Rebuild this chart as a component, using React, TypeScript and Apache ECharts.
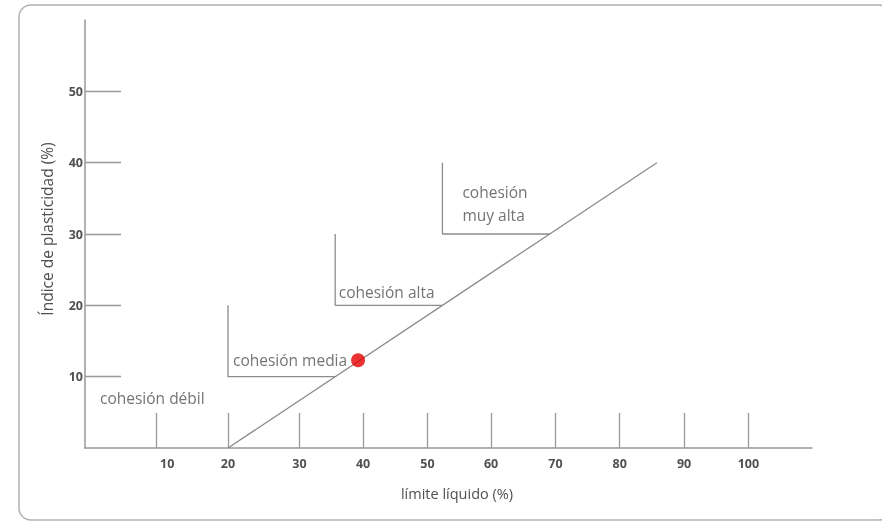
import React, { useEffect, useRef } from "react";
import * as echarts from "echarts";

// x-axis tick marks (positions in data units) and their labels, as drawn in the reference
const xTickLabels = ["10", "20", "30", "40", "50", "60", "70", "80", "90", "100"];
const xTickPos = [10, 20, 30, 38.9, 47.9, 56.8, 65.8, 74.8, 83.8, 92.8];
const xLabelPos = [11.5, 20, 30, 38.9, 47.9, 56.8, 65.8, 74.8, 83.8, 92.8];
const yTicks = [10, 20, 30, 40, 50];

// diagonal boundary line
const diagonal = [
  [20, 0],
  [80, 40],
];
// step boundaries of the zones
const zoneMedia = [
  [20, 20],
  [20, 10],
  [35, 10],
];
const zoneAlta = [
  [35, 30],
  [35, 20],
  [50, 20],
];
const zoneMuyAlta = [
  [50, 40],
  [50, 30],
  [65, 30],
];
// sample point
const samplePoint = [[38.2, 12.3]];
// zone labels: [x, y, text]
const zoneLabels: [number, number, string][] = [
  [2.1, 7.0, "cohesión débil"],
  [20.7, 12.4, "cohesión media"],
  [35.5, 21.9, "cohesión alta"],
  [52.8, 34.3, "cohesión\nmuy alta"],
];

const GRAY = "#8c8c8c";
const TEXT = "#505050";

export default function App() {
  const ref = useRef<HTMLDivElement>(null);
  useEffect(() => {
    if (!ref.current) return;
    const chart = echarts.init(ref.current, null, { renderer: "svg" });
    const lineStyle = { color: GRAY, width: 1.3 };
    const mkLine = (data: number[][]) => ({
      type: "line",
      data,
      symbol: "none",
      lineStyle,
      silent: true,
      z: 2,
    });
    chart.setOption({
      animation: false,
      grid: { left: 85, top: 20, width: 727, height: 428 },
      graphic: [
        {
          type: "rect",
          shape: { x: 19, y: 5, width: 872, height: 515, r: 12 },
          style: { fill: "none", stroke: "#b0b0b0", lineWidth: 1.5 },
          silent: true,
          z: -1,
        },
      ],
      xAxis: {
        type: "value",
        min: 0,
        max: 101.7,
        name: "límite líquido (%)",
        nameLocation: "middle",
        nameGap: 38,
        nameTextStyle: {
          color: TEXT,
          fontSize: 14.5,
          fontFamily: "Open Sans",
          padding: [0, 0, 0, 17],
        },
        axisLine: { lineStyle: { color: "#999", width: 1.5 } },
        axisTick: {
          show: true,
          inside: true,
          length: 35,
          customValues: xTickPos,
          lineStyle: { color: "#999", width: 1.3 },
        },
        axisLabel: {
          customValues: xLabelPos,
          color: TEXT,
          fontSize: 12.5,
          fontWeight: "bold",
          fontFamily: "Open Sans",
          margin: 9,
          formatter: (v: number) => {
            let best = 0;
            for (let i = 0; i < xLabelPos.length; i++) {
              if (Math.abs(xLabelPos[i] - v) < Math.abs(xLabelPos[best] - v)) best = i;
            }
            return xTickLabels[best];
          },
        },
        splitLine: { show: false },
      },
      yAxis: {
        type: "value",
        min: 0,
        max: 60,
        name: "Índice de plasticidad (%)",
        nameLocation: "middle",
        nameGap: 30,
        nameTextStyle: {
          color: TEXT,
          fontSize: 15.5,
          fontFamily: "Open Sans",
          padding: [0, 0, 0, 10],
        },
        axisLine: { show: true, lineStyle: { color: "#999", width: 1.5 } },
        axisTick: {
          show: true,
          inside: true,
          length: 36,
          customValues: yTicks,
          lineStyle: { color: "#999", width: 1.3 },
        },
        axisLabel: {
          customValues: yTicks,
          color: TEXT,
          fontSize: 12.5,
          fontWeight: "bold",
          fontFamily: "Open Sans",
          margin: 2,
        },
        splitLine: { show: false },
      },
      series: [
        mkLine(diagonal),
        mkLine(zoneMedia),
        mkLine(zoneAlta),
        mkLine(zoneMuyAlta),
        {
          type: "scatter",
          data: zoneLabels.map((d) => ({ value: [d[0], d[1]], name: d[2] })),
          symbolSize: 0,
          silent: true,
          label: {
            show: true,
            position: "right",
            distance: 0,
            formatter: (p: any) => p.name,
            color: TEXT,
            fontSize: 15.5,
            fontFamily: "Open Sans",
            lineHeight: 23,
            align: "left",
          },
        },
        {
          type: "scatter",
          data: samplePoint,
          symbol: "circle",
          symbolSize: 14,
          itemStyle: { color: "#e60000" },
          silent: true,
          z: 5,
        },
      ],
    });
    return () => chart.dispose();
  }, []);
  return (
    <div
      ref={ref}
      style={{ position: "fixed", left: 0, top: 0, width: 882, height: 525 }}
    />
  );
}
